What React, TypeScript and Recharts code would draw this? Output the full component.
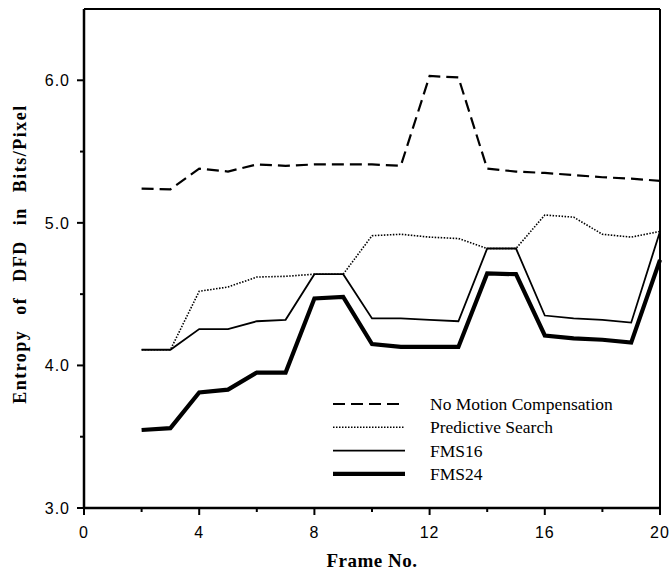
import React from 'react';
import { LineChart, Line, XAxis, YAxis, ReferenceLine } from 'recharts';

const frames = [2, 3, 4, 5, 6, 7, 8, 9, 10, 11, 12, 13, 14, 15, 16, 17, 18, 19, 20];
const noMotion = [5.24, 5.235, 5.38, 5.36, 5.41, 5.40, 5.41, 5.41, 5.41, 5.40, 6.03, 6.02, 5.38, 5.36, 5.35, 5.335, 5.32, 5.31, 5.295];
const predictive = [4.11, 4.11, 4.52, 4.55, 4.62, 4.625, 4.64, 4.64, 4.91, 4.92, 4.90, 4.89, 4.82, 4.82, 5.055, 5.04, 4.92, 4.90, 4.94];
const fms16 = [4.11, 4.11, 4.255, 4.255, 4.31, 4.32, 4.64, 4.64, 4.33, 4.33, 4.32, 4.31, 4.82, 4.82, 4.35, 4.33, 4.32, 4.30, 4.94];
const fms24 = [3.547, 3.56, 3.81, 3.83, 3.95, 3.95, 4.47, 4.48, 4.15, 4.13, 4.13, 4.13, 4.645, 4.64, 4.21, 4.19, 4.18, 4.16, 4.74];

const xTicks = [0, 2, 4, 6, 8, 10, 12, 14, 16, 18, 20];
const yTicks = [3, 3.5, 4, 4.5, 5, 5.5, 6];
const legendNames = ['No Motion Compensation', 'Predictive Search', 'FMS16', 'FMS24'];

const data = frames.map((f, i) => ({
  frame: f,
  noMotion: noMotion[i],
  predictive: predictive[i],
  fms16: fms16[i],
  fms24: fms24[i],
}));

const tickFont = { fontFamily: '"Liberation Sans", Arial, sans-serif', fontSize: 16, fill: '#000' };
const serif = '"Liberation Serif", "Times New Roman", serif';

const styles = [
  { stroke: '#000', strokeWidth: 2.2, strokeDasharray: '12 6' },
  { stroke: '#000', strokeWidth: 1.6, strokeDasharray: '1.5 1.5' },
  { stroke: '#000', strokeWidth: 1.8 },
  { stroke: '#000', strokeWidth: 4.2 },
];

const XTick = (props: any) => {
  const { x, y, payload } = props;
  const major = payload.value % 4 === 0;
  return (
    <g>
      <line x1={x} x2={x} y1={y} y2={y + (major ? 7 : 4)} stroke="#000" strokeWidth={2} />
      {major && (
        <text x={x} y={y + 30} textAnchor="middle" letterSpacing={1} {...tickFont}>
          {payload.value}
        </text>
      )}
    </g>
  );
};

const YTick = (props: any) => {
  const { x, y, payload } = props;
  const major = Number.isInteger(payload.value);
  return (
    <g>
      <line x1={x} x2={x - (major ? 7 : 4)} y1={y} y2={y} stroke="#000" strokeWidth={2} />
      {major && (
        <text x={x - 14} y={y + 6} textAnchor="end" letterSpacing={1} {...tickFont}>
          {payload.value.toFixed(1)}
        </text>
      )}
    </g>
  );
};

export default function App() {
  return (
    <div style={{ position: 'fixed', left: 0, top: 0, width: 672, height: 572, background: '#fff' }}>
      <LineChart width={672} height={572} data={data} margin={{ top: 9, right: 12, bottom: 34, left: 24 }}>
        <XAxis
          dataKey="frame"
          type="number"
          domain={[0, 20]}
          ticks={xTicks}
          tick={<XTick />}
          tickSize={0}
          tickMargin={0}
          tickLine={false}
          axisLine={{ stroke: '#000', strokeWidth: 2.5 }}
          height={30}
          interval={0}
        />
        <YAxis
          type="number"
          domain={[3, 6.5]}
          ticks={yTicks}
          tick={<YTick />}
          tickSize={0}
          tickMargin={0}
          tickLine={false}
          axisLine={{ stroke: '#000', strokeWidth: 2.5 }}
          width={60}
          interval={0}
          allowDataOverflow
        />
        <ReferenceLine x={20} stroke="#000" strokeWidth={2} />
        <ReferenceLine y={6.5} stroke="#000" strokeWidth={2} />
        <Line dataKey="noMotion" type="linear" dot={false} isAnimationActive={false} {...styles[0]} />
        <Line dataKey="predictive" type="linear" dot={false} isAnimationActive={false} {...styles[1]} />
        <Line dataKey="fms16" type="linear" dot={false} isAnimationActive={false} {...styles[2]} />
        <Line dataKey="fms24" type="linear" dot={false} isAnimationActive={false} {...styles[3]} />
        <g>
          {legendNames.map((name, i) => {
            const cy = 404 + i * 23.3;
            return (
              <g key={name}>
                <line x1={333} x2={405} y1={cy} y2={cy} {...styles[i]} />
                <text x={430} y={cy + 6} fontFamily={serif} fontSize={17.5} fill="#000">
                  {name}
                </text>
              </g>
            );
          })}
        </g>
        <text
          x={20}
          y={254}
          transform="rotate(-90 20 254)"
          textAnchor="middle"
          dominantBaseline="central"
          fontFamily={serif}
          fontWeight="bold"
          fontSize={18}
          letterSpacing={1.5}
          wordSpacing={9}
          fill="#000"
        >
          Entropy of DFD in Bits/Pixel
        </text>
        <text
          x={372}
          y={560}
          textAnchor="middle"
          dominantBaseline="central"
          fontFamily={serif}
          fontWeight="bold"
          fontSize={19}
          letterSpacing={0.5}
          fill="#000"
        >
          Frame No.
        </text>
      </LineChart>
    </div>
  );
}
